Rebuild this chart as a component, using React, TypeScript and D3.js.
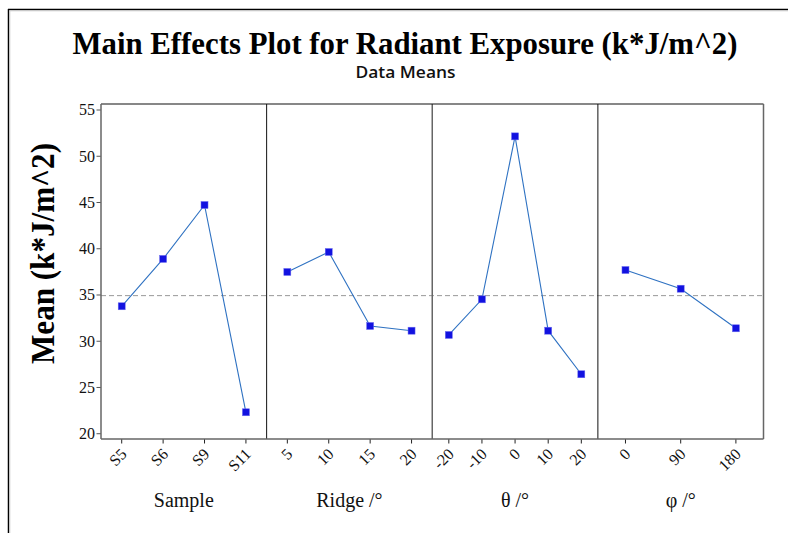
import React from "react";
import * as d3 from "d3";

const factorNames = ["Sample", "Ridge /°", "θ /°", "φ /°"];
const sampleLevels = ["S5", "S6", "S9", "S11"];
const sampleMeans = [33.78, 38.9, 44.73, 22.32];
const ridgeLevels = ["5", "10", "15", "20"];
const ridgeMeans = [37.49, 39.65, 31.65, 31.14];
const thetaLevels = ["-20", "-10", "0", "10", "20"];
const thetaMeans = [30.68, 34.53, 52.15, 31.14, 26.43];
const phiLevels = ["0", "90", "180"];
const phiMeans = [37.7, 35.68, 31.4];
const grandMean = 34.93;
const yTicks = [20, 25, 30, 35, 40, 45, 50, 55];

const W = 788;
const H = 533;
const L = 101;
const R = 763.5;
const T = 104;
const B = 439;

const serif = "'Liberation Serif', 'Times New Roman', serif";

export default function App() {
  const factors = [
    { name: factorNames[0], levels: sampleLevels, means: sampleMeans },
    { name: factorNames[1], levels: ridgeLevels, means: ridgeMeans },
    { name: factorNames[2], levels: thetaLevels, means: thetaMeans },
    { name: factorNames[3], levels: phiLevels, means: phiMeans },
  ];
  const y = d3.scaleLinear().domain([19.43, 55.65]).range([B, T]);
  const panelW = (R - L) / factors.length;
  const lineColor = "#2f72c2";
  const markColor = "#1212e0";
  const ms = 7;

  return (
    <svg
      width={W}
      height={H}
      style={{ position: "absolute", left: 0, top: 0, background: "#fff" }}
    >
      {/* outer frame */}
      <line x1={8} y1={9.5} x2={W} y2={9.5} stroke="#000" strokeWidth={1.5} />
      <line x1={8.5} y1={9} x2={8.5} y2={H} stroke="#000" strokeWidth={1.5} />
      <line x1={9.5} y1={10.8} x2={W} y2={10.8} stroke="#ccc" strokeWidth={1} />
      <line x1={9.8} y1={10.5} x2={9.8} y2={H} stroke="#ccc" strokeWidth={1} />

      {/* titles */}
      <text
        x={405}
        y={54}
        textAnchor="middle"
        fontFamily={serif}
        fontWeight="bold"
        fontSize={31.5}
        textLength={665}
        lengthAdjust="spacingAndGlyphs"
        fill="#000"
      >
        Main Effects Plot for Radiant Exposure (k*J/m^2)
      </text>
      <text
        x={405.5}
        y={78.3}
        textAnchor="middle"
        fontFamily="'Open Sans', 'Noto Sans', sans-serif"
        fontWeight={600}
        fontSize={16}
        textLength={100}
        lengthAdjust="spacingAndGlyphs"
        fill="#111"
      >
        Data Means
      </text>
      <text
        transform={`translate(54,253.5) rotate(-90)`}
        textAnchor="middle"
        fontFamily={serif}
        fontWeight="bold"
        fontSize={33}
        textLength={221}
        lengthAdjust="spacingAndGlyphs"
        fill="#000"
      >
        Mean (k*J/m^2)
      </text>

      {/* reference line */}
      <line
        x1={L}
        x2={R}
        y1={y(grandMean)}
        y2={y(grandMean)}
        stroke="#999"
        strokeWidth={1}
        strokeDasharray="5,3"
      />

      {/* y axis */}
      {yTicks.map((t) => (
        <g key={t}>
          <line x1={L - 4.5} x2={L} y1={y(t)} y2={y(t)} stroke="#555" strokeWidth={1} />
          <text
            x={L - 6}
            y={y(t)}
            dy="0.34em"
            textAnchor="end"
            fontFamily={serif}
            fontSize={16}
            fill="#111"
          >
            {t}
          </text>
        </g>
      ))}

      {factors.map((f, i) => {
        const x0 = L + i * panelW;
        const x1 = x0 + panelW;
        const x = d3.scalePoint<string>().domain(f.levels).range([x0, x1]).padding(0.5);
        const pts: [number, number][] = f.levels.map((lv, j) => [x(lv) as number, y(f.means[j])]);
        const path = d3.line()(pts) || "";
        return (
          <g key={f.name}>
            <path d={path} fill="none" stroke={lineColor} strokeWidth={1.1} />
            {pts.map((p, j) => (
              <rect
                key={j}
                x={p[0] - ms / 2}
                y={p[1] - ms / 2}
                width={ms}
                height={ms}
                fill={markColor}
                stroke="#6a6af0"
                strokeWidth={0.5}
              />
            ))}
            {f.levels.map((lv) => (
              <g key={lv}>
                <line
                  x1={x(lv)}
                  x2={x(lv)}
                  y1={B}
                  y2={B + 4.5}
                  stroke="#222"
                  strokeWidth={1}
                />
                <text
                  transform={`translate(${(x(lv) as number) + 6},${B + 16}) rotate(-45)`}
                  textAnchor="end"
                  fontFamily={serif}
                  fontSize={16}
                  fill="#111"
                >
                  {lv}
                </text>
              </g>
            ))}
            <text
              x={(x0 + x1) / 2}
              y={506.7}
              textAnchor="middle"
              fontFamily={serif}
              fontSize={20}
              fill="#111"
            >
              {f.name}
            </text>
            {i > 0 && (
              <line
                x1={x0}
                x2={x0}
                y1={T}
                y2={B}
                stroke={i === 2 ? "#666" : "#111"}
                strokeWidth={i === 2 ? 1.5 : 1}
              />
            )}
          </g>
        );
      })}

      {/* plot borders */}
      <line x1={L} x2={R} y1={T} y2={T} stroke="#111" strokeWidth={1.2} />
      <line x1={L} x2={L} y1={T} y2={B} stroke="#666" strokeWidth={1.5} />
      <line x1={L} x2={R} y1={B} y2={B} stroke="#666" strokeWidth={1.5} />
      <line x1={R} x2={R} y1={T} y2={B} stroke="#666" strokeWidth={1.5} />
    </svg>
  );
}
